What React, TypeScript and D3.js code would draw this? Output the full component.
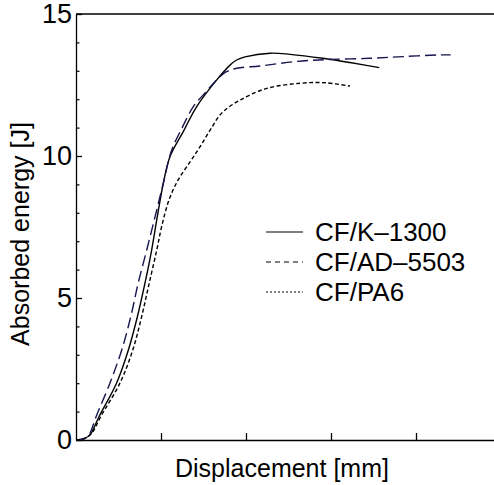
import React, { useEffect, useRef } from "react";
import * as d3 from "d3";

// displacement [mm], absorbed energy [J]
const k1300X = [0, 0.47, 0.82, 1.35, 2.39, 3.08, 3.61, 4.06, 4.45, 4.78, 5.14, 5.53, 6.31, 7.1, 8.28, 9.06, 9.45, 9.94, 11.41, 12.59, 14.53, 16.12, 17.84];
const k1300Y = [0, 0.05, 0.18, 0.82, 2.01, 3.17, 4.34, 5.53, 6.69, 7.86, 9.05, 9.98, 10.86, 11.74, 12.68, 13.2, 13.38, 13.49, 13.62, 13.58, 13.44, 13.29, 13.11];

const ad5503X = [0, 0.47, 0.76, 1.18, 2.0, 2.69, 3.22, 3.66, 4.16, 4.65, 5.14, 5.63, 6.24, 6.9, 7.59, 8.28, 8.82, 9.45, 10.82, 12.98, 14.94, 17.29, 19.24, 21.41, 22.04];
const ad5503Y = [0, 0.05, 0.18, 0.82, 2.01, 3.17, 4.34, 5.53, 6.69, 7.86, 9.05, 10.21, 10.99, 11.74, 12.22, 12.68, 12.96, 13.09, 13.17, 13.33, 13.4, 13.44, 13.5, 13.56, 13.56];

const pa6X = [0, 0.47, 0.94, 1.45, 2.59, 3.34, 3.86, 4.31, 4.75, 5.06, 5.47, 6.0, 6.71, 7.29, 7.88, 8.57, 9.65, 11.22, 13.18, 14.65, 16.12];
const pa6Y = [0, 0.04, 0.25, 0.82, 2.01, 3.17, 4.34, 5.53, 6.69, 7.57, 8.45, 9.15, 9.79, 10.32, 10.9, 11.51, 11.97, 12.38, 12.56, 12.58, 12.46];

const seriesNames = ["CF/K\u20131300", "CF/AD\u20135503", "CF/PA6"];
const yTicks = [0, 5, 10, 15];
const yMinor = [1, 2, 3, 4, 6, 7, 8, 9, 11, 12, 13, 14];
const xTicks = [5, 10, 15, 20];

const W = 494, H = 485;
const font = "'Liberation Sans', Arial, sans-serif";

const x = d3.scaleLinear().domain([0, 25]).range([76, 501]);
const y = d3.scaleLinear().domain([0, 15]).range([440, 14]);

const zip = (xs: number[], ys: number[]) => xs.map((v, i) => [v, ys[i]] as [number, number]);

const line = d3.line<[number, number]>()
  .x(d => x(d[0]))
  .y(d => y(d[1]))
  .curve(d3.curveCatmullRom.alpha(0.5));

const series = [
  { name: seriesNames[0], data: zip(k1300X, k1300Y), color: "#000", dash: null, legendDash: null },
  { name: seriesNames[1], data: zip(ad5503X, ad5503Y), color: "#15154f", dash: "11,5", legendDash: "5,4" },
  { name: seriesNames[2], data: zip(pa6X, pa6Y), color: "#000", dash: "4,2.5", legendDash: "2,2" },
];

const App = () => {
  const refY = useRef(null);
  const refYm = useRef(null);
  const refX = useRef(null);

  useEffect(() => {
    const ya = d3.select(refY.current);
    ya.call(d3.axisLeft(y).tickValues(yTicks).tickSize(-6).tickSizeOuter(0).tickPadding(4).tickFormat(d3.format("d")) as any);
    ya.selectAll("text").attr("font-size", 27).attr("font-family", font).attr("fill", "#000");
    ya.selectAll("line, path").attr("stroke", "#000").attr("stroke-width", 1.3);

    const ym = d3.select(refYm.current);
    ym.call(d3.axisLeft(y).tickValues(yMinor).tickSize(-3.5).tickSizeOuter(0).tickFormat(() => "") as any);
    ym.select(".domain").remove();
    ym.selectAll("line").attr("stroke", "#000").attr("stroke-width", 1.2);

    const xa = d3.select(refX.current);
    xa.call(d3.axisBottom(x).tickValues(xTicks).tickSize(-7).tickSizeOuter(0).tickFormat(() => "") as any);
    xa.selectAll("line, path").attr("stroke", "#000").attr("stroke-width", 1.3);
  }, []);

  return (
    <svg width={W} height={H} style={{ position: "absolute", left: 0, top: 0, background: "#fff" }}>
      <line x1={x(0)} x2={x(25)} y1={y(15)} y2={y(15)} stroke="#000" strokeWidth={1.3} />
      <g ref={refX} transform={`translate(0,${y(0)})`} />
      <g ref={refYm} transform={`translate(${x(0)},0)`} />
      <g ref={refY} transform={`translate(${x(0)},0)`} />
      {series.map(s => (
        <path key={s.name} d={line(s.data) || ""} fill="none" stroke={s.color}
          strokeWidth={1.4} strokeDasharray={s.dash || undefined} />
      ))}
      {series.map((s, i) => (
        <g key={"lg" + i} transform={`translate(0,${232 + i * 30})`}>
          <line x1={266} x2={303} y1={0} y2={0} stroke="#000" strokeWidth={1.2}
            strokeDasharray={s.legendDash || undefined} />
          <text x={315} y={0} dy="0.35em" fontSize={26} fontFamily={font}>{s.name}</text>
        </g>
      ))}
      <text x={282} y={477} textAnchor="middle" fontSize={25} fontFamily={font}>Displacement [mm]</text>
      <text transform="translate(29,234) rotate(-90)" textAnchor="middle" fontSize={25} fontFamily={font}>Absorbed energy [J]</text>
    </svg>
  );
};

export default App;
